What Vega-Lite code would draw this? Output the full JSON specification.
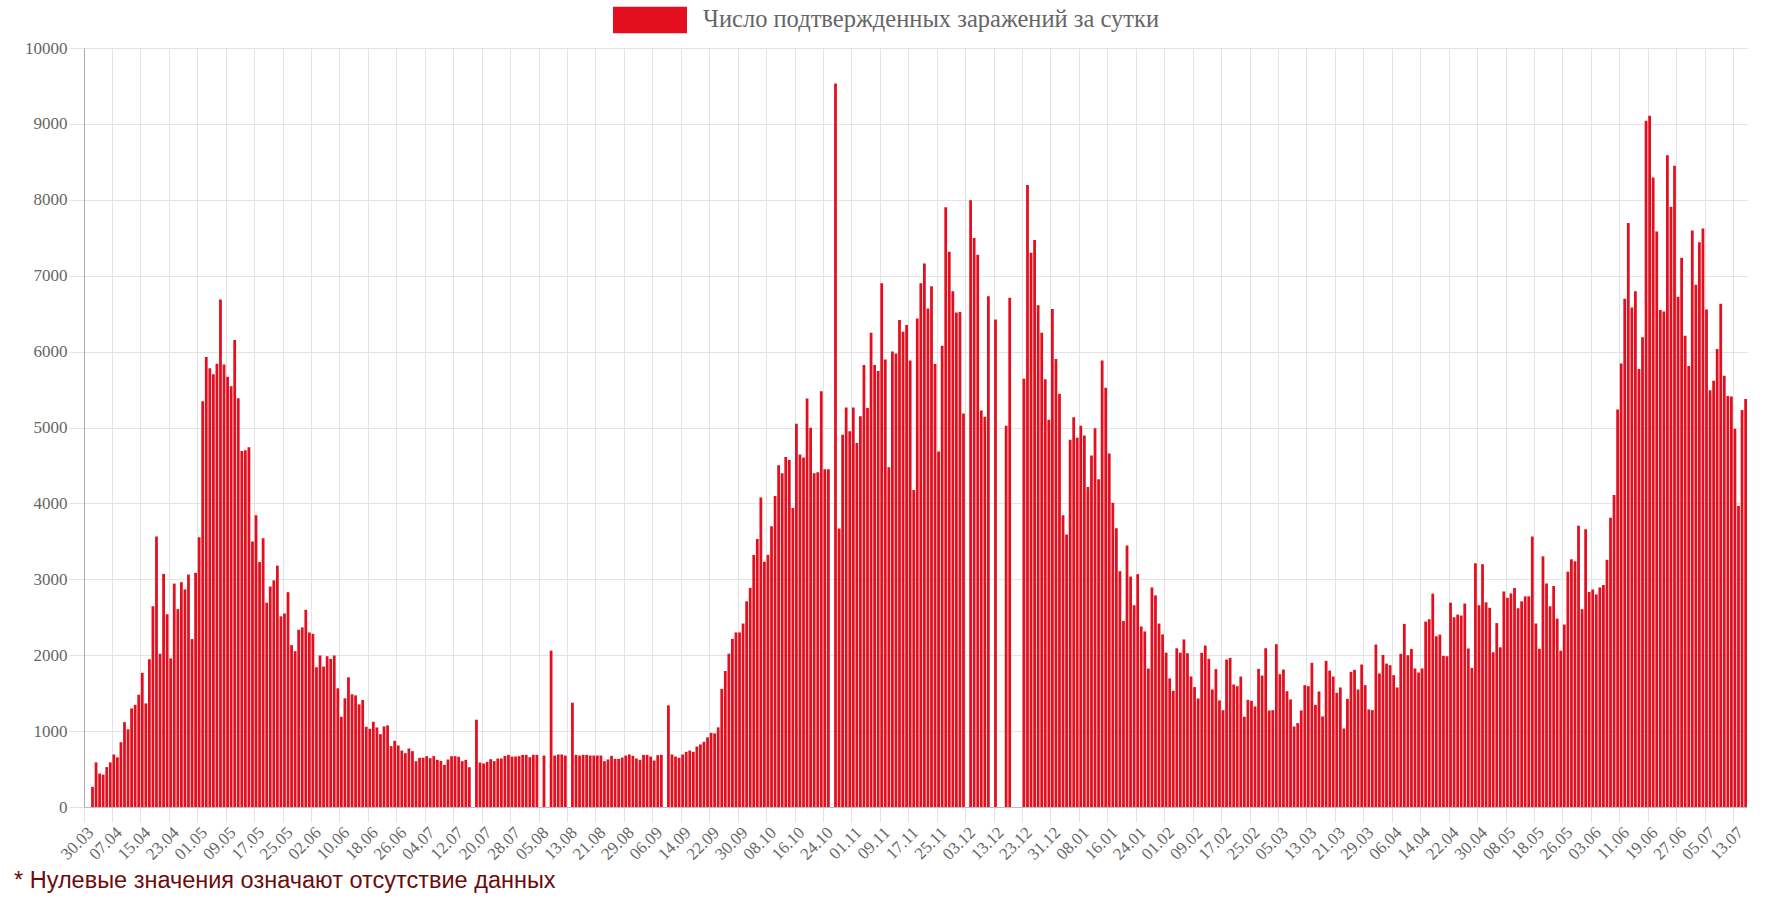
{
  "$schema": "https://vega.github.io/schema/vega-lite/v6.json",
  "description": "Число подтвержденных заражений за сутки, 30.03.2020 - 16.07.2021",
  "width": 1663,
  "height": 759,
  "autosize": {"type": "none"},
  "padding": {"left": 84, "top": 48, "right": 39, "bottom": 104},
  "background": "white",
  "config": {"view": {"stroke": null}, "font": "Liberation Serif"},
  "title": {
    "text": "* Нулевые значения означают отсутствие данных",
    "orient": "bottom",
    "anchor": "start",
    "frame": "group",
    "dx": -70,
    "offset": 7,
    "font": "Liberation Sans",
    "fontSize": 23.5,
    "fontWeight": "normal",
    "color": "#6d0b0b"
  },
  "data": {
    "values": [
      {"d": "2020-03-30", "v": 0}, {"d": "2020-03-31", "v": 0},
      {"d": "2020-04-01", "v": 265}, {"d": "2020-04-02", "v": 588}, {"d": "2020-04-03", "v": 440}, {"d": "2020-04-04", "v": 427},
      {"d": "2020-04-05", "v": 526}, {"d": "2020-04-06", "v": 588}, {"d": "2020-04-07", "v": 692}, {"d": "2020-04-08", "v": 654},
      {"d": "2020-04-09", "v": 853}, {"d": "2020-04-10", "v": 1118}, {"d": "2020-04-11", "v": 1024}, {"d": "2020-04-12", "v": 1299},
      {"d": "2020-04-13", "v": 1346}, {"d": "2020-04-14", "v": 1479}, {"d": "2020-04-15", "v": 1768}, {"d": "2020-04-16", "v": 1365},
      {"d": "2020-04-17", "v": 1948}, {"d": "2020-04-18", "v": 2645}, {"d": "2020-04-19", "v": 3564}, {"d": "2020-04-20", "v": 2019},
      {"d": "2020-04-21", "v": 3071}, {"d": "2020-04-22", "v": 2540}, {"d": "2020-04-23", "v": 1957}, {"d": "2020-04-24", "v": 2943},
      {"d": "2020-04-25", "v": 2607}, {"d": "2020-04-26", "v": 2962}, {"d": "2020-04-27", "v": 2867}, {"d": "2020-04-28", "v": 3062},
      {"d": "2020-04-29", "v": 2213}, {"d": "2020-04-30", "v": 3085},
      {"d": "2020-05-01", "v": 3555}, {"d": "2020-05-02", "v": 5346}, {"d": "2020-05-03", "v": 5929}, {"d": "2020-05-04", "v": 5782},
      {"d": "2020-05-05", "v": 5701}, {"d": "2020-05-06", "v": 5839}, {"d": "2020-05-07", "v": 6687}, {"d": "2020-05-08", "v": 5829},
      {"d": "2020-05-09", "v": 5668}, {"d": "2020-05-10", "v": 5545}, {"d": "2020-05-11", "v": 6152}, {"d": "2020-05-12", "v": 5384},
      {"d": "2020-05-13", "v": 4692}, {"d": "2020-05-14", "v": 4701}, {"d": "2020-05-15", "v": 4739}, {"d": "2020-05-16", "v": 3498},
      {"d": "2020-05-17", "v": 3844}, {"d": "2020-05-18", "v": 3227}, {"d": "2020-05-19", "v": 3540}, {"d": "2020-05-20", "v": 2692},
      {"d": "2020-05-21", "v": 2905}, {"d": "2020-05-22", "v": 2986}, {"d": "2020-05-23", "v": 3180}, {"d": "2020-05-24", "v": 2512},
      {"d": "2020-05-25", "v": 2550}, {"d": "2020-05-26", "v": 2830}, {"d": "2020-05-27", "v": 2133}, {"d": "2020-05-28", "v": 2053},
      {"d": "2020-05-29", "v": 2335}, {"d": "2020-05-30", "v": 2366}, {"d": "2020-05-31", "v": 2599},
      {"d": "2020-06-01", "v": 2300}, {"d": "2020-06-02", "v": 2282}, {"d": "2020-06-03", "v": 1841}, {"d": "2020-06-04", "v": 1996},
      {"d": "2020-06-05", "v": 1850}, {"d": "2020-06-06", "v": 1987}, {"d": "2020-06-07", "v": 1952}, {"d": "2020-06-08", "v": 1996},
      {"d": "2020-06-09", "v": 1564}, {"d": "2020-06-10", "v": 1189}, {"d": "2020-06-11", "v": 1432}, {"d": "2020-06-12", "v": 1709},
      {"d": "2020-06-13", "v": 1485}, {"d": "2020-06-14", "v": 1471}, {"d": "2020-06-15", "v": 1352}, {"d": "2020-06-16", "v": 1410},
      {"d": "2020-06-17", "v": 1057}, {"d": "2020-06-18", "v": 1031}, {"d": "2020-06-19", "v": 1123}, {"d": "2020-06-20", "v": 1048},
      {"d": "2020-06-21", "v": 960}, {"d": "2020-06-22", "v": 1062}, {"d": "2020-06-23", "v": 1075}, {"d": "2020-06-24", "v": 802},
      {"d": "2020-06-25", "v": 872}, {"d": "2020-06-26", "v": 811}, {"d": "2020-06-27", "v": 744}, {"d": "2020-06-28", "v": 709},
      {"d": "2020-06-29", "v": 771}, {"d": "2020-06-30", "v": 736},
      {"d": "2020-07-01", "v": 604}, {"d": "2020-07-02", "v": 648}, {"d": "2020-07-03", "v": 648}, {"d": "2020-07-04", "v": 670},
      {"d": "2020-07-05", "v": 643}, {"d": "2020-07-06", "v": 670}, {"d": "2020-07-07", "v": 621}, {"d": "2020-07-08", "v": 608},
      {"d": "2020-07-09", "v": 555}, {"d": "2020-07-10", "v": 626}, {"d": "2020-07-11", "v": 670}, {"d": "2020-07-12", "v": 670},
      {"d": "2020-07-13", "v": 661}, {"d": "2020-07-14", "v": 604}, {"d": "2020-07-15", "v": 621}, {"d": "2020-07-16", "v": 524},
      {"d": "2020-07-17", "v": 0}, {"d": "2020-07-18", "v": 1150}, {"d": "2020-07-19", "v": 586}, {"d": "2020-07-20", "v": 573},
      {"d": "2020-07-21", "v": 595}, {"d": "2020-07-22", "v": 630}, {"d": "2020-07-23", "v": 604}, {"d": "2020-07-24", "v": 639},
      {"d": "2020-07-25", "v": 639}, {"d": "2020-07-26", "v": 674}, {"d": "2020-07-27", "v": 687}, {"d": "2020-07-28", "v": 665},
      {"d": "2020-07-29", "v": 665}, {"d": "2020-07-30", "v": 670}, {"d": "2020-07-31", "v": 687},
      {"d": "2020-08-01", "v": 687}, {"d": "2020-08-02", "v": 656}, {"d": "2020-08-03", "v": 687}, {"d": "2020-08-04", "v": 687},
      {"d": "2020-08-05", "v": 0}, {"d": "2020-08-06", "v": 678}, {"d": "2020-08-07", "v": 0}, {"d": "2020-08-08", "v": 2060},
      {"d": "2020-08-09", "v": 678}, {"d": "2020-08-10", "v": 692}, {"d": "2020-08-11", "v": 692}, {"d": "2020-08-12", "v": 678},
      {"d": "2020-08-13", "v": 0}, {"d": "2020-08-14", "v": 1374}, {"d": "2020-08-15", "v": 687}, {"d": "2020-08-16", "v": 678},
      {"d": "2020-08-17", "v": 687}, {"d": "2020-08-18", "v": 687}, {"d": "2020-08-19", "v": 678}, {"d": "2020-08-20", "v": 678},
      {"d": "2020-08-21", "v": 678}, {"d": "2020-08-22", "v": 678}, {"d": "2020-08-23", "v": 604}, {"d": "2020-08-24", "v": 626},
      {"d": "2020-08-25", "v": 674}, {"d": "2020-08-26", "v": 634}, {"d": "2020-08-27", "v": 634}, {"d": "2020-08-28", "v": 652},
      {"d": "2020-08-29", "v": 678}, {"d": "2020-08-30", "v": 692}, {"d": "2020-08-31", "v": 674},
      {"d": "2020-09-01", "v": 639}, {"d": "2020-09-02", "v": 621}, {"d": "2020-09-03", "v": 687}, {"d": "2020-09-04", "v": 687},
      {"d": "2020-09-05", "v": 665}, {"d": "2020-09-06", "v": 612}, {"d": "2020-09-07", "v": 683}, {"d": "2020-09-08", "v": 687},
      {"d": "2020-09-09", "v": 0}, {"d": "2020-09-10", "v": 1339}, {"d": "2020-09-11", "v": 692}, {"d": "2020-09-12", "v": 665},
      {"d": "2020-09-13", "v": 648}, {"d": "2020-09-14", "v": 692}, {"d": "2020-09-15", "v": 727}, {"d": "2020-09-16", "v": 744},
      {"d": "2020-09-17", "v": 727}, {"d": "2020-09-18", "v": 797}, {"d": "2020-09-19", "v": 824}, {"d": "2020-09-20", "v": 859},
      {"d": "2020-09-21", "v": 918}, {"d": "2020-09-22", "v": 977}, {"d": "2020-09-23", "v": 970}, {"d": "2020-09-24", "v": 1049},
      {"d": "2020-09-25", "v": 1557}, {"d": "2020-09-26", "v": 1792}, {"d": "2020-09-27", "v": 2020}, {"d": "2020-09-28", "v": 2215},
      {"d": "2020-09-29", "v": 2300}, {"d": "2020-09-30", "v": 2300},
      {"d": "2020-10-01", "v": 2417}, {"d": "2020-10-02", "v": 2710}, {"d": "2020-10-03", "v": 2886}, {"d": "2020-10-04", "v": 3322},
      {"d": "2020-10-05", "v": 3531}, {"d": "2020-10-06", "v": 4078}, {"d": "2020-10-07", "v": 3231}, {"d": "2020-10-08", "v": 3322},
      {"d": "2020-10-09", "v": 3700}, {"d": "2020-10-10", "v": 4098}, {"d": "2020-10-11", "v": 4502}, {"d": "2020-10-12", "v": 4397},
      {"d": "2020-10-13", "v": 4612}, {"d": "2020-10-14", "v": 4573}, {"d": "2020-10-15", "v": 3941}, {"d": "2020-10-16", "v": 5049},
      {"d": "2020-10-17", "v": 4645}, {"d": "2020-10-18", "v": 4606}, {"d": "2020-10-19", "v": 5381}, {"d": "2020-10-20", "v": 4997},
      {"d": "2020-10-21", "v": 4397}, {"d": "2020-10-22", "v": 4410}, {"d": "2020-10-23", "v": 5479}, {"d": "2020-10-24", "v": 4450},
      {"d": "2020-10-25", "v": 4450}, {"d": "2020-10-26", "v": 0}, {"d": "2020-10-27", "v": 9531}, {"d": "2020-10-28", "v": 3668},
      {"d": "2020-10-29", "v": 4906}, {"d": "2020-10-30", "v": 5264}, {"d": "2020-10-31", "v": 4951},
      {"d": "2020-11-01", "v": 5264}, {"d": "2020-11-02", "v": 4795}, {"d": "2020-11-03", "v": 5147}, {"d": "2020-11-04", "v": 5824},
      {"d": "2020-11-05", "v": 5257}, {"d": "2020-11-06", "v": 6248}, {"d": "2020-11-07", "v": 5824}, {"d": "2020-11-08", "v": 5746},
      {"d": "2020-11-09", "v": 6899}, {"d": "2020-11-10", "v": 5896}, {"d": "2020-11-11", "v": 4476}, {"d": "2020-11-12", "v": 6000},
      {"d": "2020-11-13", "v": 5974}, {"d": "2020-11-14", "v": 6417}, {"d": "2020-11-15", "v": 6261}, {"d": "2020-11-16", "v": 6352},
      {"d": "2020-11-17", "v": 5883}, {"d": "2020-11-18", "v": 4176}, {"d": "2020-11-19", "v": 6436}, {"d": "2020-11-20", "v": 6899},
      {"d": "2020-11-21", "v": 7160}, {"d": "2020-11-22", "v": 6567}, {"d": "2020-11-23", "v": 6860}, {"d": "2020-11-24", "v": 5837},
      {"d": "2020-11-25", "v": 4684}, {"d": "2020-11-26", "v": 6078}, {"d": "2020-11-27", "v": 7902}, {"d": "2020-11-28", "v": 7316},
      {"d": "2020-11-29", "v": 6795}, {"d": "2020-11-30", "v": 6515},
      {"d": "2020-12-01", "v": 6521}, {"d": "2020-12-02", "v": 5186}, {"d": "2020-12-03", "v": 0}, {"d": "2020-12-06", "v": 7993},
      {"d": "2020-12-07", "v": 7498}, {"d": "2020-12-08", "v": 7277}, {"d": "2020-12-09", "v": 5225}, {"d": "2020-12-10", "v": 5140},
      {"d": "2020-12-11", "v": 6730}, {"d": "2020-12-12", "v": 0}, {"d": "2020-12-13", "v": 6423}, {"d": "2020-12-14", "v": 0},
      {"d": "2020-12-15", "v": 0}, {"d": "2020-12-16", "v": 5023}, {"d": "2020-12-19", "v": 6710}, {"d": "2020-12-20", "v": 0},
      {"d": "2020-12-21", "v": 0}, {"d": "2020-12-22", "v": 0}, {"d": "2020-12-23", "v": 5642}, {"d": "2020-12-24", "v": 8195},
      {"d": "2020-12-25", "v": 7303}, {"d": "2020-12-26", "v": 7472}, {"d": "2020-12-27", "v": 6612}, {"d": "2020-12-28", "v": 6248},
      {"d": "2020-12-29", "v": 5635}, {"d": "2020-12-30", "v": 5101}, {"d": "2020-12-31", "v": 6560},
      {"d": "2021-01-01", "v": 5902}, {"d": "2021-01-02", "v": 5446}, {"d": "2021-01-03", "v": 3844}, {"d": "2021-01-04", "v": 3590},
      {"d": "2021-01-05", "v": 4840}, {"d": "2021-01-06", "v": 5134}, {"d": "2021-01-07", "v": 4866}, {"d": "2021-01-08", "v": 5023},
      {"d": "2021-01-09", "v": 4893}, {"d": "2021-01-10", "v": 4215}, {"d": "2021-01-11", "v": 4632}, {"d": "2021-01-12", "v": 4990},
      {"d": "2021-01-13", "v": 4319}, {"d": "2021-01-14", "v": 5883}, {"d": "2021-01-15", "v": 5524}, {"d": "2021-01-16", "v": 4658},
      {"d": "2021-01-17", "v": 4007}, {"d": "2021-01-18", "v": 3674}, {"d": "2021-01-19", "v": 3107}, {"d": "2021-01-20", "v": 2450},
      {"d": "2021-01-21", "v": 3446}, {"d": "2021-01-22", "v": 3036}, {"d": "2021-01-23", "v": 2658}, {"d": "2021-01-24", "v": 3068},
      {"d": "2021-01-25", "v": 2378}, {"d": "2021-01-26", "v": 2313}, {"d": "2021-01-27", "v": 1824}, {"d": "2021-01-28", "v": 2893},
      {"d": "2021-01-29", "v": 2788}, {"d": "2021-01-30", "v": 2417}, {"d": "2021-01-31", "v": 2274},
      {"d": "2021-02-01", "v": 2033}, {"d": "2021-02-02", "v": 1694}, {"d": "2021-02-03", "v": 1531}, {"d": "2021-02-04", "v": 2091},
      {"d": "2021-02-05", "v": 2033}, {"d": "2021-02-06", "v": 2208}, {"d": "2021-02-07", "v": 2026}, {"d": "2021-02-08", "v": 1720},
      {"d": "2021-02-09", "v": 1580}, {"d": "2021-02-10", "v": 1430}, {"d": "2021-02-11", "v": 2031}, {"d": "2021-02-12", "v": 2127},
      {"d": "2021-02-13", "v": 1952}, {"d": "2021-02-14", "v": 1548}, {"d": "2021-02-15", "v": 1816}, {"d": "2021-02-16", "v": 1404},
      {"d": "2021-02-17", "v": 1276}, {"d": "2021-02-18", "v": 1943}, {"d": "2021-02-19", "v": 1965}, {"d": "2021-02-20", "v": 1614},
      {"d": "2021-02-21", "v": 1592}, {"d": "2021-02-22", "v": 1719}, {"d": "2021-02-23", "v": 1189}, {"d": "2021-02-24", "v": 1412},
      {"d": "2021-02-25", "v": 1399}, {"d": "2021-02-26", "v": 1325}, {"d": "2021-02-27", "v": 1820}, {"d": "2021-02-28", "v": 1732},
      {"d": "2021-03-01", "v": 2092}, {"d": "2021-03-02", "v": 1272}, {"d": "2021-03-03", "v": 1276}, {"d": "2021-03-04", "v": 2145},
      {"d": "2021-03-05", "v": 1750}, {"d": "2021-03-06", "v": 1811}, {"d": "2021-03-07", "v": 1526}, {"d": "2021-03-08", "v": 1417},
      {"d": "2021-03-09", "v": 1061}, {"d": "2021-03-10", "v": 1105}, {"d": "2021-03-11", "v": 1272}, {"d": "2021-03-12", "v": 1605},
      {"d": "2021-03-13", "v": 1592}, {"d": "2021-03-14", "v": 1899}, {"d": "2021-03-15", "v": 1346}, {"d": "2021-03-16", "v": 1522},
      {"d": "2021-03-17", "v": 1193}, {"d": "2021-03-18", "v": 1925}, {"d": "2021-03-19", "v": 1798}, {"d": "2021-03-20", "v": 1719},
      {"d": "2021-03-21", "v": 1504}, {"d": "2021-03-22", "v": 1575}, {"d": "2021-03-23", "v": 1035}, {"d": "2021-03-24", "v": 1425},
      {"d": "2021-03-25", "v": 1781}, {"d": "2021-03-26", "v": 1807}, {"d": "2021-03-27", "v": 1548}, {"d": "2021-03-28", "v": 1877},
      {"d": "2021-03-29", "v": 1605}, {"d": "2021-03-30", "v": 1285}, {"d": "2021-03-31", "v": 1276},
      {"d": "2021-04-01", "v": 2140}, {"d": "2021-04-02", "v": 1759}, {"d": "2021-04-03", "v": 2004}, {"d": "2021-04-04", "v": 1890},
      {"d": "2021-04-05", "v": 1868}, {"d": "2021-04-06", "v": 1737}, {"d": "2021-04-07", "v": 1575}, {"d": "2021-04-08", "v": 2018},
      {"d": "2021-04-09", "v": 2412}, {"d": "2021-04-10", "v": 2000}, {"d": "2021-04-11", "v": 2083}, {"d": "2021-04-12", "v": 1825},
      {"d": "2021-04-13", "v": 1772}, {"d": "2021-04-14", "v": 1825}, {"d": "2021-04-15", "v": 2443}, {"d": "2021-04-16", "v": 2474},
      {"d": "2021-04-17", "v": 2811}, {"d": "2021-04-18", "v": 2250}, {"d": "2021-04-19", "v": 2272}, {"d": "2021-04-20", "v": 1991},
      {"d": "2021-04-21", "v": 1987}, {"d": "2021-04-22", "v": 2693}, {"d": "2021-04-23", "v": 2500}, {"d": "2021-04-24", "v": 2535},
      {"d": "2021-04-25", "v": 2522}, {"d": "2021-04-26", "v": 2680}, {"d": "2021-04-27", "v": 2088}, {"d": "2021-04-28", "v": 1833},
      {"d": "2021-04-29", "v": 3212}, {"d": "2021-04-30", "v": 2658},
      {"d": "2021-05-01", "v": 3199}, {"d": "2021-05-02", "v": 2697}, {"d": "2021-05-03", "v": 2625}, {"d": "2021-05-04", "v": 2039},
      {"d": "2021-05-05", "v": 2423}, {"d": "2021-05-06", "v": 2104}, {"d": "2021-05-07", "v": 2840}, {"d": "2021-05-08", "v": 2756},
      {"d": "2021-05-09", "v": 2814}, {"d": "2021-05-10", "v": 2886}, {"d": "2021-05-11", "v": 2619}, {"d": "2021-05-14", "v": 2710},
      {"d": "2021-05-15", "v": 2775}, {"d": "2021-05-16", "v": 2775}, {"d": "2021-05-17", "v": 3564}, {"d": "2021-05-18", "v": 2417},
      {"d": "2021-05-19", "v": 2085}, {"d": "2021-05-20", "v": 3303}, {"d": "2021-05-21", "v": 2945}, {"d": "2021-05-22", "v": 2645},
      {"d": "2021-05-23", "v": 2912}, {"d": "2021-05-24", "v": 2482}, {"d": "2021-05-25", "v": 2059}, {"d": "2021-05-26", "v": 2404},
      {"d": "2021-05-27", "v": 3101}, {"d": "2021-05-28", "v": 3264}, {"d": "2021-05-29", "v": 3238}, {"d": "2021-05-30", "v": 3707},
      {"d": "2021-05-31", "v": 2606},
      {"d": "2021-06-01", "v": 3661}, {"d": "2021-06-02", "v": 2834}, {"d": "2021-06-03", "v": 2866}, {"d": "2021-06-04", "v": 2801},
      {"d": "2021-06-05", "v": 2893}, {"d": "2021-06-06", "v": 2925}, {"d": "2021-06-07", "v": 3257}, {"d": "2021-06-08", "v": 3811},
      {"d": "2021-06-09", "v": 4111}, {"d": "2021-06-10", "v": 5238}, {"d": "2021-06-11", "v": 5844}, {"d": "2021-06-12", "v": 6697},
      {"d": "2021-06-13", "v": 7694}, {"d": "2021-06-14", "v": 6580}, {"d": "2021-06-15", "v": 6795}, {"d": "2021-06-16", "v": 5772},
      {"d": "2021-06-17", "v": 6189}, {"d": "2021-06-18", "v": 9042}, {"d": "2021-06-19", "v": 9107}, {"d": "2021-06-20", "v": 8293},
      {"d": "2021-06-21", "v": 7583}, {"d": "2021-06-22", "v": 6547}, {"d": "2021-06-23", "v": 6528}, {"d": "2021-06-24", "v": 8586},
      {"d": "2021-06-25", "v": 7909}, {"d": "2021-06-26", "v": 8450}, {"d": "2021-06-27", "v": 6723}, {"d": "2021-06-28", "v": 7238},
      {"d": "2021-06-29", "v": 6208}, {"d": "2021-06-30", "v": 5811},
      {"d": "2021-07-01", "v": 7596}, {"d": "2021-07-02", "v": 6880}, {"d": "2021-07-03", "v": 7440}, {"d": "2021-07-04", "v": 7622},
      {"d": "2021-07-05", "v": 6554}, {"d": "2021-07-06", "v": 5492}, {"d": "2021-07-07", "v": 5616}, {"d": "2021-07-08", "v": 6033},
      {"d": "2021-07-09", "v": 6632}, {"d": "2021-07-10", "v": 5681}, {"d": "2021-07-11", "v": 5414}, {"d": "2021-07-12", "v": 5407},
      {"d": "2021-07-13", "v": 4984}, {"d": "2021-07-14", "v": 3967}, {"d": "2021-07-15", "v": 5231}, {"d": "2021-07-16", "v": 5375}
    ]
  },
  "mark": {"type": "bar"},
  "encoding": {
    "x": {
      "field": "d",
      "type": "ordinal",
      "sort": null,
      "scale": {"paddingInner": 0.22, "paddingOuter": 0},
      "axis": {
        "title": null,
        "bandPosition": 0,
        "values": [
          "2020-03-30", "2020-04-07", "2020-04-15", "2020-04-23", "2020-05-01", "2020-05-09", "2020-05-17", "2020-05-25",
          "2020-06-02", "2020-06-10", "2020-06-18", "2020-06-26", "2020-07-04", "2020-07-12", "2020-07-20", "2020-07-28",
          "2020-08-05", "2020-08-13", "2020-08-21", "2020-08-29", "2020-09-06", "2020-09-14", "2020-09-22", "2020-09-30",
          "2020-10-08", "2020-10-16", "2020-10-24", "2020-11-01", "2020-11-09", "2020-11-17", "2020-11-25", "2020-12-03",
          "2020-12-13", "2020-12-23", "2020-12-31", "2021-01-08", "2021-01-16", "2021-01-24", "2021-02-01", "2021-02-09",
          "2021-02-17", "2021-02-25", "2021-03-05", "2021-03-13", "2021-03-21", "2021-03-29", "2021-04-06", "2021-04-14",
          "2021-04-22", "2021-04-30", "2021-05-08", "2021-05-18", "2021-05-26", "2021-06-03", "2021-06-11", "2021-06-19",
          "2021-06-27", "2021-07-05", "2021-07-13"
        ],
        "labelExpr": "substring(datum.value, 8, 10) + '.' + substring(datum.value, 5, 7)",
        "labelAngle": -45,
        "labelFont": "Liberation Serif",
        "labelFontSize": 17,
        "labelColor": "#666666",
        "labelPadding": 2,
        "grid": true,
        "gridColor": "#e4e4e4",
        "tickColor": "#e4e4e4",
        "tickSize": 15,
        "domainColor": "#bbbbbb"
      }
    },
    "y": {
      "field": "v",
      "type": "quantitative",
      "scale": {"domain": [0, 10000]},
      "axis": {
        "title": null,
        "values": [0, 1000, 2000, 3000, 4000, 5000, 6000, 7000, 8000, 9000, 10000],
        "format": "d",
        "labelFont": "Liberation Serif",
        "labelFontSize": 17,
        "labelColor": "#666666",
        "labelPadding": 2,
        "gridColor": "#e4e4e4",
        "tickColor": "#e4e4e4",
        "tickSize": 15,
        "domainColor": "#aaaaaa"
      }
    },
    "color": {
      "datum": "Число подтвержденных заражений за сутки",
      "scale": {"range": ["#e30f1e"]},
      "legend": {
        "title": null,
        "orient": "none",
        "legendX": 529,
        "legendY": -65,
        "padding": 0,
        "symbolType": "M-1,-0.36H1V0.36H-1Z",
        "symbolSize": 5476,
        "symbolStrokeWidth": 0,
        "symbolOpacity": 1,
        "labelFont": "Liberation Serif",
        "labelFontSize": 24.5,
        "labelColor": "#666666",
        "labelOffset": 16,
        "labelLimit": 600
      }
    }
  }
}
